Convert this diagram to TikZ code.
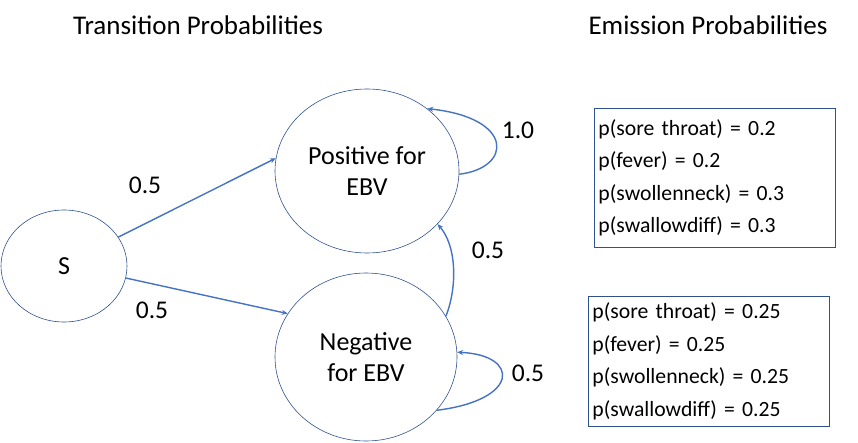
\documentclass[tikz,border=0pt]{standalone}
\usepackage{fontspec}
\setmainfont{Carlito}
\usetikzlibrary{shapes.geometric,arrows.meta}
\definecolor{edgeblue}{HTML}{4472C4}
\definecolor{lineblue}{HTML}{2F528F}
\begin{document}
\begin{tikzpicture}[x=1pt,y=-1pt,
  state/.style={ellipse,draw=lineblue,line width=0.6pt,inner sep=0pt,align=center,font=\fontsize{26}{31}\selectfont},
  trans/.style={draw=edgeblue,line width=1.4pt,-{Stealth[length=6pt,width=5pt]}},
  lbl/.style={font=\fontsize{25.5}{30}\selectfont},
  ttl/.style={font=\fontsize{27}{31}\selectfont},
  emis/.style={draw=lineblue,line width=0.8pt,align=left,inner xsep=4pt,inner ysep=0pt,font=\fontsize{21.7}{32.5}\selectfont}]
\useasboundingbox (0,0) rectangle (858,443);
\node[ttl] (t1) at (198,25) {Transition Probabilities};
\node[ttl] (t2) at (708,25) {Emission Probabilities};
\node[state,minimum width=126pt,minimum height=112pt] (s) at (64,266) {S};
\node[state,minimum width=184pt,minimum height=164pt] (pos) at (367,171) {Positive for\\EBV};
\node[state,minimum width=182pt,minimum height=168pt] (neg) at (366,357) {Negative\\for EBV};
\draw[trans] (s.28) -- (pos.172);
\draw[trans] (s.-11.5) -- (neg.151);
\draw[trans] (pos.-2.5) .. controls (512,168) and (515,118) .. (pos.46);
\draw[trans] (neg.27.4) .. controls (458,285) and (456,245) .. (pos.-37);
\draw[trans] (neg.-37.5) .. controls (520,400) and (520,355) .. (neg.3);
\node[lbl] (l1) at (145,185) {0.5};
\node[lbl] (l2) at (152,310) {0.5};
\node[lbl] (l3) at (518,130) {1.0};
\node[lbl] (l4) at (488,250) {0.5};
\node[lbl] (l5) at (528,373) {0.5};
\node[emis,minimum width=241pt,minimum height=139pt,text width=233pt,anchor=north west] (e1) at (594,108)
  {p(sore throat) = 0.2\\p(fever) = 0.2\\p(swollenneck) = 0.3\\p(swallowdiff) = 0.3};
\node[emis,minimum width=241pt,minimum height=130pt,text width=233pt,anchor=north west] (e2) at (588,296)
  {p(sore throat) = 0.25\\p(fever) = 0.25\\p(swollenneck) = 0.25\\p(swallowdiff) = 0.25};
\end{tikzpicture}
\end{document}
